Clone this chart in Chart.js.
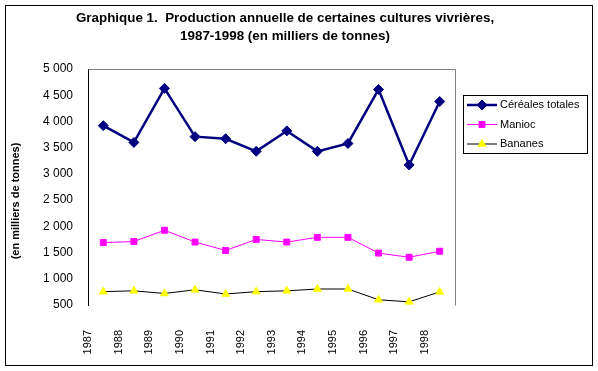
<!DOCTYPE html>
<html>
<head>
<meta charset="utf-8">
<script src="https://cdn.jsdelivr.net/npm/chart.js@4.4.0/dist/chart.umd.min.js"></script>
<style>
  html, body { margin: 0; padding: 0; background: #fff; }
</style>
</head>
<body>
<canvas id="lineChart" width="598" height="371"></canvas>
<script>
// donnees (milliers de tonnes)
var years = ["1987", "1988", "1989", "1990", "1991", "1992", "1993", "1994", "1995", "1996", "1997", "1998"];
var cereales = [3920, 3600, 4630, 3710, 3670, 3430, 3820, 3430, 3580, 4610, 3170, 4380];
var manioc = [1690, 1710, 1925, 1700, 1540, 1750, 1700, 1790, 1790, 1490, 1410, 1525];
var bananes = [755, 770, 720, 790, 710, 755, 770, 805, 805, 600, 560, 750];

var yMin = 500;
var yMax = 5000;
var yStep = 500;

var titleLines = [
  "Graphique 1.  Production annuelle de certaines cultures vivrières,",
  "1987-1998 (en milliers de tonnes)"
];
var yTitle = "(en milliers de tonnes)";

Chart.defaults.font.family = 'Arial, "Liberation Sans", sans-serif';
Chart.defaults.color = "#000";

function fmt(v) {
  return String(v).replace(/\B(?=(\d{3})+(?!\d))/g, " ");
}

function marker(ctx, style, x, y, r) {
  ctx.beginPath();
  if (style === "rectRot") {
    ctx.moveTo(x - r, y);
    ctx.lineTo(x, y - r);
    ctx.lineTo(x + r, y);
    ctx.lineTo(x, y + r);
  } else if (style === "rect") {
    var s = r * Math.SQRT1_2;
    ctx.rect(x - s, y - s, 2 * s, 2 * s);
  } else {
    ctx.moveTo(x, y - r);
    ctx.lineTo(x + r * 0.866, y + r / 2);
    ctx.lineTo(x - r * 0.866, y + r / 2);
  }
  ctx.closePath();
  ctx.fill();
  ctx.stroke();
}

var frame = {
  id: "frame",
  beforeDraw: function (chart) {
    var ctx = chart.ctx;
    ctx.save();
    ctx.fillStyle = "#fff";
    ctx.fillRect(0, 0, chart.width, chart.height);
    ctx.strokeStyle = "#000";
    ctx.lineWidth = 1;
    ctx.strokeRect(5.5, 5.5, 587, 360);
    ctx.restore();
  },
  beforeDatasetsDraw: function (chart) {
    var a = chart.chartArea;
    var ctx = chart.ctx;
    ctx.save();
    ctx.strokeStyle = "#808080";
    ctx.lineWidth = 1;
    ctx.beginPath();
    ctx.moveTo(Math.round(a.left) + 0.5, Math.round(a.top) + 0.5);
    ctx.lineTo(Math.round(a.right) + 0.5, Math.round(a.top) + 0.5);
    ctx.lineTo(Math.round(a.right) + 0.5, Math.round(a.bottom) + 0.5);
    ctx.stroke();
    ctx.restore();
  },
  afterDraw: function (chart) {
    var ctx = chart.ctx;
    var a = chart.chartArea;
    ctx.save();

    // titre de l'axe vertical (un peu sous le centre, comme dans Excel)
    ctx.font = "bold 11px Arial, 'Liberation Sans', sans-serif";
    ctx.fillStyle = "#000";
    ctx.textAlign = "center";
    ctx.textBaseline = "middle";
    ctx.translate(16, (a.top + a.bottom) / 2 + 14);
    ctx.rotate(-Math.PI / 2);
    ctx.fillText(yTitle, 0, 0);
    ctx.setTransform(1, 0, 0, 1, 0, 0);

    // legende encadree a droite
    var lx = Math.round(a.right) + 8;
    var ly = 95;
    ctx.strokeStyle = "#000";
    ctx.lineWidth = 1;
    ctx.strokeRect(lx + 0.5, ly + 0.5, 124, 58);
    ctx.font = "11px Arial, 'Liberation Sans', sans-serif";
    ctx.textAlign = "left";
    chart.data.datasets.forEach(function (ds, i) {
      var y = ly + 10 + i * 19.5;
      ctx.strokeStyle = ds.borderColor;
      ctx.lineWidth = ds.borderWidth;
      ctx.beginPath();
      ctx.moveTo(lx + 4, y);
      ctx.lineTo(lx + 34, y);
      ctx.stroke();
      ctx.fillStyle = ds.pointBackgroundColor;
      ctx.strokeStyle = ds.pointBorderColor;
      ctx.lineWidth = 1;
      marker(ctx, ds.pointStyle, lx + 19, y, ds.pointRadius);
      ctx.fillStyle = "#000";
      ctx.fillText(ds.label, lx + 37, y);
    });
    ctx.restore();
  }
};

var ctx = document.getElementById("lineChart").getContext("2d");
var myChart = new Chart(ctx, {
  type: "line",
  data: {
    labels: years,
    datasets: [
      {
        label: "Céréales totales",
        data: cereales,
        borderColor: "#000080",
        backgroundColor: "#000080",
        borderWidth: 2.5,
        pointStyle: "rectRot",
        pointRadius: 5,
        pointBorderWidth: 1,
        pointBackgroundColor: "#000080",
        pointBorderColor: "#000080",
        tension: 0,
      },
      {
        label: "Manioc",
        data: manioc,
        borderColor: "#FF00FF",
        backgroundColor: "#FF00FF",
        borderWidth: 1,
        pointStyle: "rect",
        pointRadius: 4.2,
        pointBorderWidth: 1,
        pointBackgroundColor: "#FF00FF",
        pointBorderColor: "#FF00FF",
        tension: 0,
      },
      {
        label: "Bananes",
        data: bananes,
        borderColor: "#000000",
        backgroundColor: "#FFFF00",
        borderWidth: 1,
        pointStyle: "triangle",
        pointRadius: 4.5,
        pointBorderWidth: 1,
        pointBackgroundColor: "#FFFF00",
        pointBorderColor: "#FFFF00",
        tension: 0,
      },
    ],
  },
  options: {
    responsive: false,
    animation: false,
    layout: { padding: { left: 5, right: 33, top: 0, bottom: 0 } },
    plugins: {
      legend: { display: false },
      tooltip: { enabled: false },
      title: {
        display: true,
        text: titleLines,
        color: "#000",
        font: { size: 13.4, weight: "bold", lineHeight: "18px" },
        padding: { top: 9, bottom: 24 },
      },
    },
    scales: {
      x: {
        offset: true,
        grid: { display: false, drawTicks: false },
        border: { display: false },
        ticks: {
          autoSkip: false,
          minRotation: 90,
          maxRotation: 90,
          padding: 25,
          labelOffset: -15,
          color: "#000",
          font: { size: 11 },
        },
        afterFit: function (s) { s.height = 66; },
      },
      y: {
        min: yMin,
        max: yMax,
        ticks: {
          stepSize: yStep,
          padding: 15,
          color: "#000",
          font: { size: 12 },
          callback: function (v) { return fmt(v); },
        },
        grid: { display: false, drawTicks: false },
        border: { display: true, color: "#000", width: 1 },
        afterFit: function (s) { s.width = 83; },
      },
      pad: {
        type: "linear",
        position: "right",
        display: true,
        grid: { display: false, drawTicks: false },
        border: { display: false },
        ticks: { display: false },
        afterFit: function (s) { s.width = 110; },
      },
    },
  },
  plugins: [frame],
});
</script>
</body>
</html>
